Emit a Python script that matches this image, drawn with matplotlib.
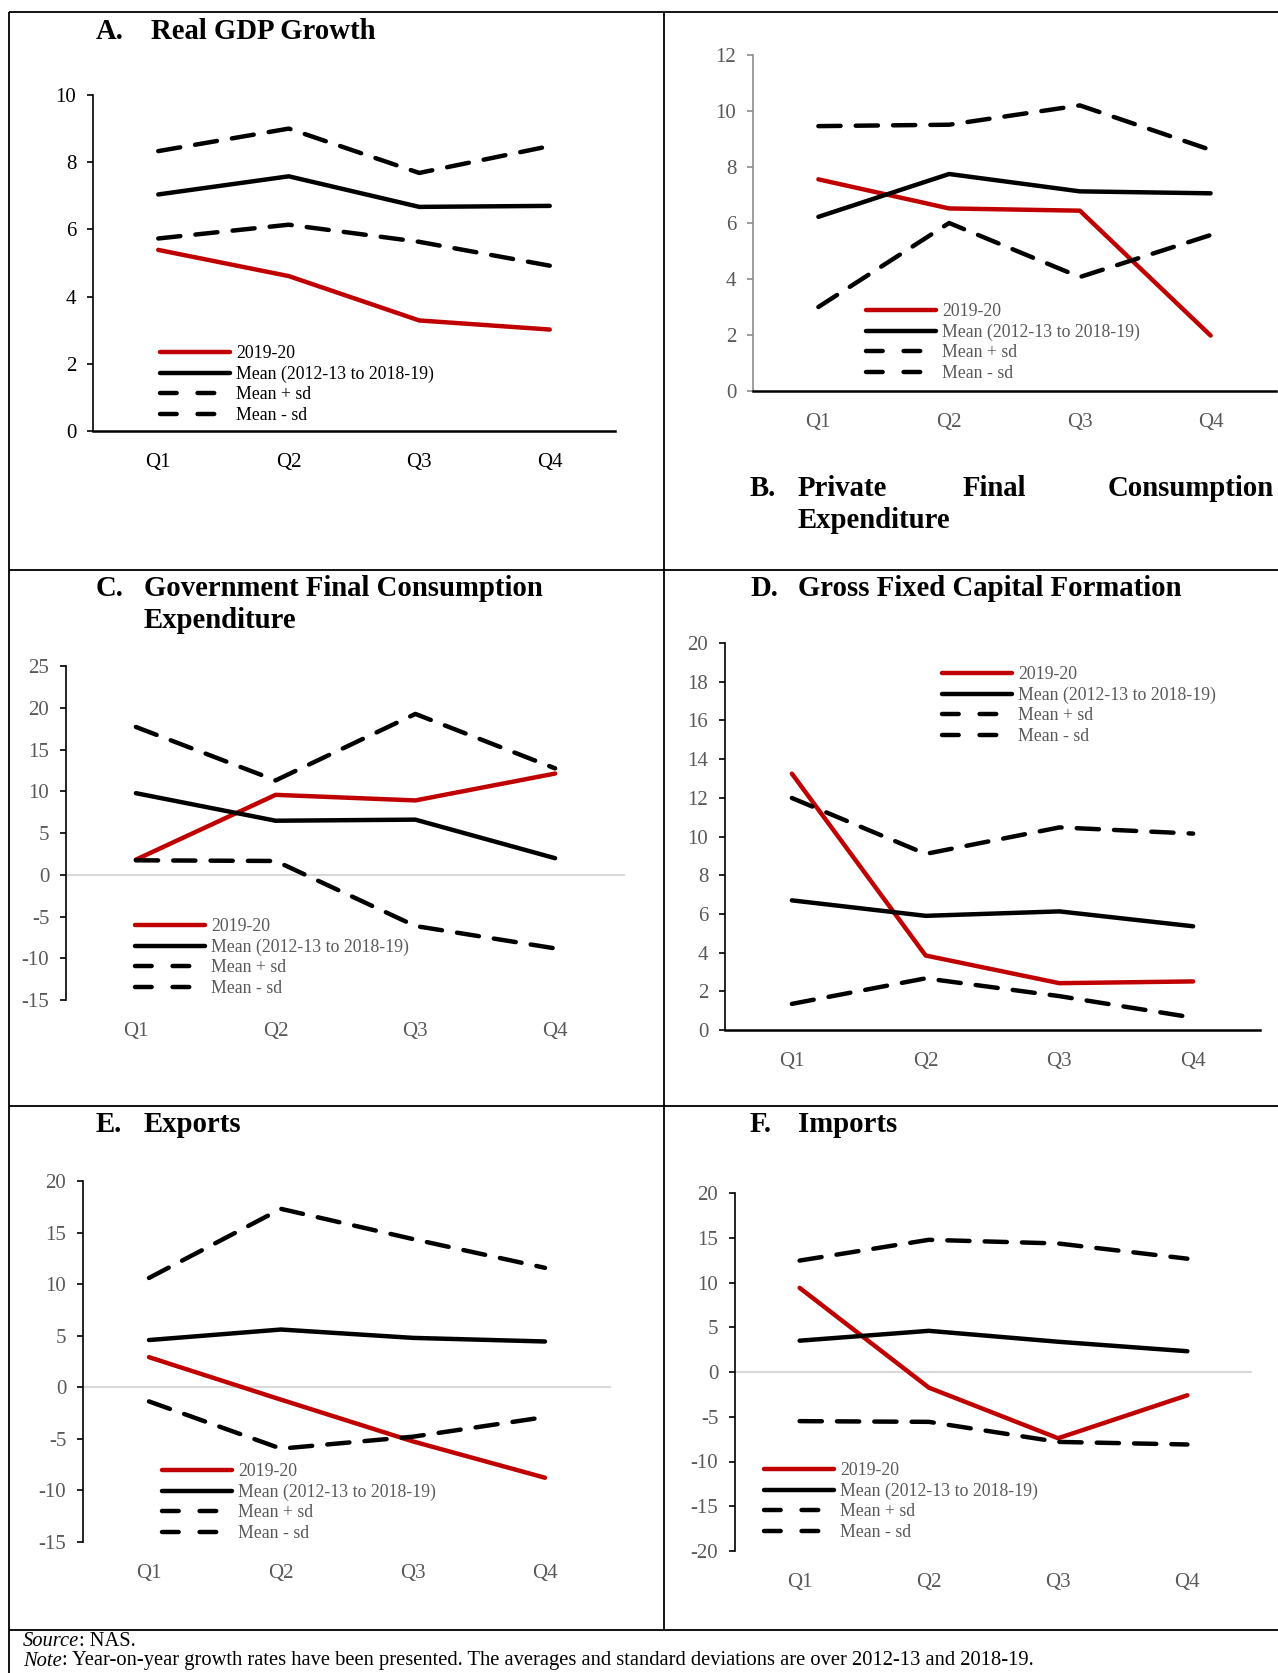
import matplotlib.pyplot as plt
import numpy as np
from matplotlib.lines import Line2D

plt.rcParams['font.family'] = ['Liberation Serif', 'DejaVu Serif']
plt.rcParams['axes.unicode_minus'] = False

W, H = 1278, 1673

quarters = ['Q1', 'Q2', 'Q3', 'Q4']
series_labels = ['2019-20', 'Mean (2012-13 to 2018-19)', 'Mean + sd', 'Mean - sd']

# A. Real GDP growth
gdp_2019 = [5.39, 4.61, 3.29, 3.02]
gdp_mean = [7.04, 7.58, 6.67, 6.70]
gdp_plus = [8.33, 9.00, 7.68, 8.48]
gdp_minus = [5.73, 6.14, 5.63, 4.92]

# B. Private final consumption expenditure
pfce_2019 = [7.56, 6.52, 6.44, 1.98]
pfce_mean = [6.22, 7.75, 7.13, 7.06]
pfce_plus = [9.46, 9.51, 10.20, 8.61]
pfce_minus = [3.00, 6.00, 4.07, 5.57]

# C. Government final consumption expenditure
gfce_2019 = [1.81, 9.57, 8.90, 12.12]
gfce_mean = [9.77, 6.47, 6.60, 1.98]
gfce_plus = [17.70, 11.30, 19.26, 12.74]
gfce_minus = [1.73, 1.65, -6.14, -8.82]

# D. Gross fixed capital formation
gfcf_2019 = [13.25, 3.85, 2.42, 2.51]
gfcf_mean = [6.70, 5.90, 6.13, 5.36]
gfcf_plus = [11.99, 9.10, 10.47, 10.15]
gfcf_minus = [1.35, 2.67, 1.75, 0.64]

# E. Exports
exp_2019 = [2.92, -1.20, -5.25, -8.77]
exp_mean = [4.58, 5.60, 4.79, 4.44]
exp_plus = [10.60, 17.30, 14.37, 11.58]
exp_minus = [-1.37, -5.95, -4.79, -2.89]

# F. Imports
imp_2019 = [9.40, -1.75, -7.40, -2.60]
imp_mean = [3.50, 4.60, 3.38, 2.32]
imp_plus = [12.45, 14.77, 14.36, 12.66]
imp_minus = [-5.49, -5.57, -7.81, -8.10]

RED = '#C00000'
GREY_TXT = '#595959'
LW = 3.2
DASH = (0, (5.0, 3.4))
LEG_DASH = (0, (3.75, 4.7))

fig = plt.figure(figsize=(W / 100, H / 100), dpi=100)

# full-figure layer in pixel units for the table frame, titles and notes
base = fig.add_axes([0, 0, 1, 1])
base.set_xlim(0, W)
base.set_ylim(H, 0)
base.axis('off')

frame_kw = dict(color='black', lw=1.3, solid_capstyle='butt')
for y in [12, 570, 1106, 1630]:
    base.plot([9, W], [y, y], **frame_kw)
base.plot([9, 9], [12, H], **frame_kw)
base.plot([664, 664], [12, 1630], **frame_kw)


def px_rect(x0, y0, x1, y1):
    return [x0 / W, 1 - y1 / H, (x1 - x0) / W, (y1 - y0) / H]


def draw_panel(rect, ylim, step, data, zero_line, legend_xy,
               tick_color=GREY_TXT, yaxis_color='black', legend_color=GREY_TXT):
    ax = fig.add_axes(px_rect(*rect))
    ax.patch.set_alpha(0)
    x = np.arange(len(quarters))
    styles = [dict(color=RED, ls='-'), dict(color='black', ls='-'),
              dict(color='black', ls=DASH), dict(color='black', ls=DASH)]
    for vals, st in zip(data, styles):
        ax.plot(x, vals, lw=LW, solid_capstyle='round',
                dash_capstyle='round', solid_joinstyle='round', **st)

    ax.set_xlim(-0.5, 3.5)
    ax.set_ylim(*ylim)
    ax.set_yticks(np.arange(ylim[0], ylim[1] + step / 2, step))
    ax.set_xticks(x, quarters)
    for s in ['top', 'right']:
        ax.spines[s].set_visible(False)
    ax.spines['left'].set_color(yaxis_color)
    ax.spines['left'].set_linewidth(1.2)
    if zero_line:
        ax.spines['bottom'].set_visible(False)
        ax.axhline(0, color='#D9D9D9', lw=1.5, zorder=0.5)
    else:
        ax.spines['bottom'].set_linewidth(1.8)
    ax.tick_params(axis='y', direction='out', length=4, width=1.2,
                   color=yaxis_color, labelcolor=tick_color, labelsize=15, pad=8)
    ax.tick_params(axis='x', length=0, labelcolor=tick_color, labelsize=15, pad=16)

    # legend keys: dashed keys show two full dashes
    keys = [Line2D([], [], color=RED, lw=LW, solid_capstyle='round'),
            Line2D([], [], color='black', lw=LW, solid_capstyle='round'),
            Line2D([], [], color='black', lw=LW, ls=LEG_DASH, dash_capstyle='round'),
            Line2D([], [], color='black', lw=LW, ls=LEG_DASH, dash_capstyle='round')]
    lx, ly = legend_xy
    ax.legend(keys, series_labels, loc='upper left',
              bbox_to_anchor=(lx / W, 1 - ly / H), bbox_transform=fig.transFigure,
              frameon=False, fontsize=12.8, handlelength=3.95, handletextpad=0.35,
              labelspacing=0.2, borderpad=0, borderaxespad=0,
              labelcolor=legend_color)
    return ax


draw_panel((93, 95, 615, 431), (0, 10), 2,
           [gdp_2019, gdp_mean, gdp_plus, gdp_minus], False, (160, 345),
           tick_color='black', legend_color='black')
draw_panel((753, 55, 1276, 391), (0, 12), 2,
           [pfce_2019, pfce_mean, pfce_plus, pfce_minus], False, (866, 303),
           yaxis_color='#8C8C8C')
draw_panel((66, 666, 625, 1000), (-15, 25), 5,
           [gfce_2019, gfce_mean, gfce_plus, gfce_minus], True, (135, 918))
draw_panel((725, 643, 1260, 1030), (0, 20), 2,
           [gfcf_2019, gfcf_mean, gfcf_plus, gfcf_minus], False, (942, 666))
draw_panel((83, 1181, 611, 1542), (-15, 20), 5,
           [exp_2019, exp_mean, exp_plus, exp_minus], True, (162, 1463))
draw_panel((735, 1193, 1252, 1551), (-20, 20), 5,
           [imp_2019, imp_mean, imp_plus, imp_minus], True, (764, 1462))

# panel headings
TS = 20.7
title_kw = dict(fontsize=TS, fontweight='bold', va='center', ha='left')
base.text(96, 31, 'A.', **title_kw)
base.text(151, 31, 'Real GDP Growth', **title_kw)
base.text(750, 488, 'B.', **title_kw)
base.text(798, 488, 'Private', **title_kw)
base.text(963, 488, 'Final', **title_kw)
base.text(1274, 488, 'Consumption', fontsize=TS, fontweight='bold', va='center', ha='right')
base.text(798, 521, 'Expenditure', **title_kw)
base.text(96, 588, 'C.', **title_kw)
base.text(144, 588, 'Government Final Consumption', **title_kw)
base.text(144, 621, 'Expenditure', **title_kw)
base.text(750, 588, 'D.', **title_kw)
base.text(798, 588, 'Gross Fixed Capital Formation', **title_kw)
base.text(96, 1125, 'E.', **title_kw)
base.text(144, 1125, 'Exports', **title_kw)
base.text(750, 1125, 'F.', **title_kw)
base.text(798, 1125, 'Imports', **title_kw)

# source and note
t1 = base.text(23, 1642, 'Source', fontsize=14.8, fontstyle='italic', va='center')
base.annotate(': NAS.', xy=(1, 0.5), xycoords=t1, fontsize=14.8, va='center')
t2 = base.text(23, 1661, 'Note', fontsize=14.8, fontstyle='italic', va='center')
base.annotate(': Year-on-year growth rates have been presented. The averages and '
              'standard deviations are over 2012-13 and 2018-19.',
              xy=(1, 0.5), xycoords=t2, fontsize=14.8, va='center')

fig.savefig('out.png', dpi=100, facecolor='white')
